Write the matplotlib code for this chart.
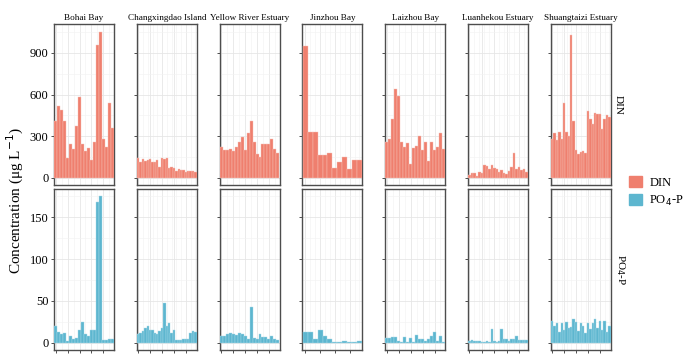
import matplotlib.pyplot as plt
import numpy as np
from matplotlib.patches import Patch

plt.rcParams['font.family'] = ['Liberation Serif', 'DejaVu Serif']

# station groups
sites = ["Bohai Bay", "Changxingdao Island", "Yellow River Estuary", "Jinzhou Bay",
         "Laizhou Bay", "Luanhekou Estuary", "Shuangtaizi Estuary"]

din_bohai = [410, 520, 490, 410, 140, 240, 210, 370, 580, 240, 190, 215, 130, 260, 960, 1050, 280, 220, 540, 360]
din_chang = [140, 115, 135, 120, 130, 135, 110, 115, 130, 80, 140, 135, 140, 70, 75, 70, 45, 65, 55, 55, 40, 50, 45, 50, 40]
din_yellow = [220, 200, 200, 210, 190, 220, 260, 290, 200, 320, 410, 260, 170, 150, 240, 240, 240, 280, 210, 180]
din_jinzhou = [950, 330, 330, 160, 165, 180, 70, 110, 150, 60, 125, 125]
din_laizhou = [260, 280, 420, 640, 590, 260, 220, 250, 95, 215, 230, 300, 200, 260, 120, 260, 200, 220, 320, 210]
din_luanhe = [20, 35, 35, 15, 40, 35, 90, 85, 65, 90, 70, 65, 40, 55, 35, 30, 50, 80, 180, 60, 80, 55, 60, 40]
din_shuang = [280, 320, 270, 330, 280, 540, 330, 300, 1030, 410, 200, 170, 185, 190, 180, 480, 420,
              390, 470, 460, 460, 350, 420, 450, 440]

po4_bohai = [20, 13, 10, 12, 2, 8, 4, 6, 15, 25, 10, 8, 15, 15, 168, 175, 3, 3, 4, 4]
po4_chang = [10, 12, 14, 17, 20, 15, 15, 12, 10, 14, 18, 48, 20, 23, 12, 15, 3, 3, 3, 5, 5, 5, 12, 14, 13]
po4_yellow = [8, 8, 10, 11, 10, 9, 12, 10, 8, 5, 43, 6, 5, 10, 7, 7, 5, 8, 4, 3]
po4_jinzhou = [13, 13, 5, 15, 8, 5, 1, 1, 2, 1, 1, 2]
po4_laizhou = [6, 6, 7, 7, 2, 1, 7, 1, 6, 1, 9, 4, 5, 2, 4, 8, 13, 2, 8, 1]
po4_luanhe = [2, 3, 2, 2, 2, 1, 1, 2, 1, 16, 2, 1, 2, 16, 5, 4, 2, 4, 4, 8, 3, 3, 3, 3]
po4_shuang = [26, 20, 24, 13, 23, 15, 25, 18, 19, 28, 25, 14, 24, 20, 12, 23, 16, 24, 28, 17, 26, 15, 26, 13, 20]

din = [din_bohai, din_chang, din_yellow, din_jinzhou, din_laizhou, din_luanhe, din_shuang]
po4 = [po4_bohai, po4_chang, po4_yellow, po4_jinzhou, po4_laizhou, po4_luanhe, po4_shuang]

c_din = "#EF7F6E"
c_po4 = "#5DB6CF"

W, H = 691, 360
fig = plt.figure(figsize=(W / 100, H / 100), dpi=100)


def px(x0, y0, w, h):
    return [x0 / W, 1 - (y0 + h) / H, w / W, h / H]


rows = [(din, c_din, 24, (-53, 1109), [0, 300, 600, 900]),
        (po4, c_po4, 189, (-8.75, 183.75), [0, 50, 100, 150])]

for r, (vals, col, ytop, ylim, yt) in enumerate(rows):
    for i, v in enumerate(vals):
        ax = fig.add_axes(px(54 + i * 82.8, ytop, 60, 161))
        x = np.arange(1, len(v) + 1)
        ax.bar(x, v, width=1.0, color=col, edgecolor="#F6C3BA" if r == 0 else "#A9DAE8", linewidth=0.3, zorder=3)
        ax.set_xlim(0.4, len(v) + 0.6)
        ax.set_ylim(*ylim)
        ax.set_yticks(yt)
        ax.set_yticks([(a + b) / 2 for a, b in zip(yt[:-1], yt[1:])] + [yt[-1] + (yt[1] - yt[0]) / 2], minor=True)
        step = max(1, int(np.ceil(len(v) / 5)))
        ax.set_xticks(np.arange(1, len(v) + 1, step))
        ax.set_xticks(np.arange(1, len(v) + 1, max(1, step // 2)), minor=True)
        ax.grid(which="major", color="#E6E6E6", linewidth=0.6, zorder=0)
        ax.grid(which="minor", color="#F2F2F2", linewidth=0.4, zorder=0)
        ax.set_facecolor("white")
        for s in ax.spines.values():
            s.set_color("#4D4D4D")
            s.set_linewidth(1.0)
        ax.tick_params(which="minor", length=0)
        ax.tick_params(which="major", length=2.5, width=0.6, color="#333333", labelsize=9, pad=1.5)
        ax.set_xticklabels([])
        if r == 0:
            ax.tick_params(axis="x", length=0)
            ax.set_title(sites[i], fontsize=6.6, pad=3)
        if i > 0:
            ax.set_yticklabels([])
        if i == len(vals) - 1:
            lab = "DIN" if r == 0 else "PO$_4$-P"
            ax.text(1.05, 0.5, lab, transform=ax.transAxes, rotation=-90,
                    ha="left", va="center", fontsize=8)

fig.text(15 / W, 1 - 200 / H, "Concentration (μg L$^{-1}$)", rotation=90,
         ha="center", va="center", fontsize=11)

handles = [Patch(color=c_din, label="DIN"), Patch(color=c_po4, label="PO$_4$-P")]
fig.legend(handles=handles, loc="center left", bbox_to_anchor=(618 / W, 1 - 192 / H),
           frameon=False, fontsize=9, handlelength=1.0, handleheight=1.0, handletextpad=0.6,
           labelspacing=0.4)

fig.savefig("out.png", dpi=100)
